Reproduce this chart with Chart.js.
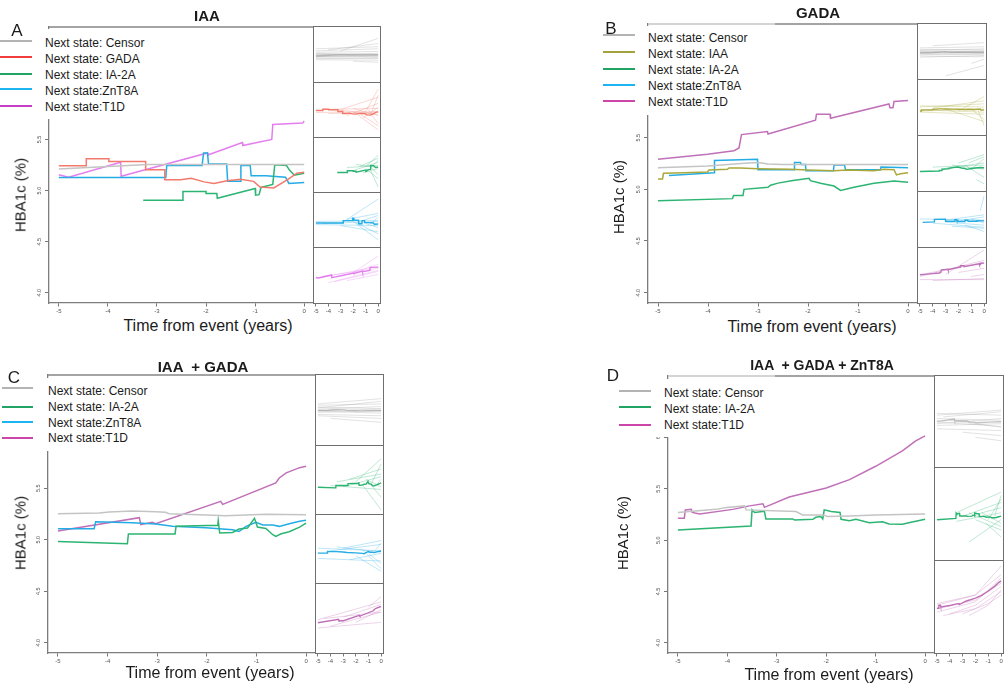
<!DOCTYPE html>
<html lang="en">
<head>
<meta charset="utf-8">
<title>HBA1c before next state</title>
<script src="https://cdn.jsdelivr.net/npm/chart.js@4.4.1/dist/chart.umd.min.js"></script>
<style>
  html, body { margin: 0; padding: 0; background: #fff; }
  body { position: relative; width: 1006px; height: 688px; overflow: hidden; font-family: "Liberation Sans", Arial, sans-serif; color: #1b1b1b; }
  canvas { position: absolute; }
  .box { position: absolute; box-sizing: border-box; }
  .txt { position: absolute; white-space: pre; line-height: 1; }
</style>
</head>
<body>
<script>
// 軸の範囲と目盛り
const X_RANGE = [-5.2, 0.2];
const STRIP_X_RANGE = [-5.15, 0.15];
const Y_RANGE = [3.9, 6.6];
const X_TICKS = [-5, -4, -3, -2, -1, 0];
const Y_TICKS = [4, 4.5, 5, 5.5, 6];
const Y_TICK_LABELS = ['4.0', '4.5', '5.0', '5.5', '6'];

// ---- A: IAA ----  [time, HbA1c]
const A_censor = [[-5,5.21],[-4,5.235],[-3.2,5.255],[-2,5.255],[0,5.255]];
const A_gada = [[-5,5.243],[-4.44,5.243],[-4.44,5.31],[-3.98,5.31],[-3.98,5.285],[-3.23,5.285],[-3.23,5.204],[-2.84,5.204],[-2.84,5.105],[-2.52,5.105],[-2.3,5.12],[-2.04,5.085],[-1.84,5.07],[-1.57,5.095],[-1.3,5.11],[-1.03,5.09],[-0.9,5.035],[-0.62,5.025],[-0.33,5.11],[-0.15,5.17],[0,5.18]];
const A_ia2a = [[-3.28,4.905],[-2.48,4.905],[-2.47,4.99],[-2.0,4.99],[-2.0,4.97],[-1.78,4.97],[-1.77,4.925],[-1.0,5.02],[-0.99,4.955],[-0.92,4.96],[-0.88,5.03],[-0.64,5.06],[-0.6,5.253],[-0.36,5.245],[-0.3,5.2],[-0.2,5.15],[0,5.17]];
const A_znt8a = [[-5,5.128],[-2.82,5.128],[-2.8,5.246],[-2.08,5.246],[-2.05,5.368],[-1.97,5.368],[-1.95,5.26],[-1.58,5.26],[-1.56,5.09],[-1.3,5.09],[-1.29,5.246],[-1.1,5.246],[-1.08,5.145],[-0.78,5.145],[-0.38,5.13],[-0.31,5.07],[0,5.08]];
const A_t1d = [[-5,5.155],[-4.8,5.13],[-3.74,5.276],[-3.73,5.14],[-1.97,5.368],[-1.95,5.35],[-1.26,5.47],[-1.25,5.44],[-0.66,5.5],[-0.64,5.647],[-0.03,5.66],[0,5.68]];

// ---- B: GADA ----
const B_censor = [[-5,5.21],[-4,5.225],[-3.2,5.255],[-3.0,5.26],[-2.8,5.245],[-2.5,5.24],[0,5.24]];
const B_iaa = [[-5,5.1],[-4.91,5.1],[-4.89,5.155],[-4.48,5.16],[-4.01,5.168],[-3.98,5.187],[-3.61,5.194],[-3.58,5.206],[-3.35,5.206],[-3.01,5.2],[-2.35,5.194],[-2.01,5.187],[-1.48,5.18],[-1.21,5.187],[-0.68,5.18],[-0.48,5.194],[-0.28,5.19],[-0.23,5.14],[-0.15,5.15],[0,5.16]];
const B_ia2a = [[-5,4.89],[-3.51,4.91],[-3.49,4.94],[-3.3,4.94],[-3.28,5.0],[-2.8,5.02],[-2.75,5.04],[-2.6,5.06],[-2.3,5.085],[-1.98,5.106],[-1.95,5.084],[-1.75,5.058],[-1.48,5.032],[-1.35,4.99],[-1.08,5.02],[-0.68,5.058],[-0.28,5.08],[0,5.068]];
const B_znt8a = [[-4.78,5.135],[-3.88,5.16],[-3.87,5.28],[-3.01,5.29],[-3.0,5.19],[-2.28,5.19],[-2.27,5.26],[-2.15,5.26],[-2.14,5.24],[-2.05,5.24],[-2.04,5.18],[-1.49,5.18],[-1.48,5.235],[-1.27,5.235],[-1.25,5.19],[-0.55,5.19],[-0.54,5.215],[0,5.21]];
const B_t1d = [[-5,5.29],[-4.01,5.34],[-3.48,5.374],[-3.38,5.4],[-3.33,5.53],[-2.81,5.56],[-2.8,5.535],[-1.85,5.67],[-1.83,5.726],[-1.56,5.726],[-1.55,5.687],[-0.38,5.826],[-0.36,5.79],[-0.3,5.79],[-0.28,5.85],[0,5.86]];

// ---- C: IAA + GADA ----
const C_censor = [[-5,5.253],[-4.17,5.26],[-3.97,5.27],[-3.5,5.28],[-3.03,5.273],[-2.83,5.266],[-2.76,5.253],[-2.02,5.24],[-1.62,5.234],[-0.81,5.247],[0,5.243]];
const C_ia2a = [[-5,4.984],[-3.6,4.961],[-3.58,5.055],[-2.64,5.055],[-2.62,5.13],[-1.78,5.14],[-1.77,5.185],[-1.74,5.065],[-1.48,5.07],[-1.35,5.104],[-1.18,5.114],[-1.04,5.208],[-0.98,5.123],[-0.81,5.11],[-0.67,5.049],[-0.61,5.032],[-0.5,5.058],[-0.34,5.078],[-0.13,5.123],[0,5.162]];
const C_znt8a = [[-5,5.107],[-4.27,5.107],[-4.24,5.175],[-3.5,5.166],[-3.03,5.153],[-2.69,5.13],[-2.02,5.117],[-1.48,5.097],[-1.35,5.08],[-1.21,5.13],[-1.01,5.169],[-0.87,5.143],[-0.67,5.143],[-0.54,5.13],[-0.34,5.156],[-0.13,5.18],[0,5.19]];
const C_t1d = [[-5,5.084],[-3.36,5.214],[-3.33,5.146],[-3.1,5.17],[-3.03,5.156],[-1.72,5.373],[-1.68,5.344],[-0.61,5.552],[-0.54,5.6],[-0.4,5.65],[-0.13,5.7],[0,5.714]];

// ---- D: IAA + GADA + ZnT8A ----
const D_censor = [[-5,5.269],[-4.23,5.3],[-4.02,5.318],[-3.65,5.334],[-3.62,5.295],[-2.61,5.279],[-2.48,5.246],[-2.07,5.246],[-1.97,5.23],[-1.53,5.236],[-1.0,5.246],[0,5.256]];
const D_ia2a = [[-5,5.098],[-3.52,5.138],[-3.5,5.295],[-3.45,5.269],[-3.25,5.282],[-3.22,5.207],[-2.68,5.207],[-2.64,5.197],[-2.27,5.203],[-2.21,5.223],[-2.11,5.23],[-2.07,5.207],[-2.04,5.295],[-1.9,5.279],[-1.72,5.269],[-1.7,5.203],[-1.53,5.19],[-1.4,5.203],[-1.13,5.17],[-0.86,5.18],[-0.73,5.157],[-0.46,5.154],[-0.26,5.177],[0,5.203]];
const D_t1d = [[-5,5.213],[-4.87,5.213],[-4.85,5.295],[-4.73,5.3],[-4.71,5.27],[-4.56,5.256],[-3.89,5.3],[-3.55,5.334],[-3.28,5.354],[-3.25,5.32],[-2.75,5.42],[-2.0,5.508],[-1.53,5.59],[-1.0,5.72],[-0.46,5.87],[-0.19,5.967],[0,6.016]];

// 個人ごとの薄い線 [x0, y0, x1, y1, ...]
const A_fCensor = [[-5,5.45,0,5.55],[-5,5.38,0,5.42],[-5,5.32,0,5.22],[-5,5.27,0,5.33],[-5,5.22,0,5.16],[-5,5.17,0,5.27],[-5,5.12,0,5.08],[-5,5.07,0,5.12],[-5,5.02,0,5.0],[-5,5.3,0,5.28],[-5,5.18,0,5.2],[-4,5.5,0,5.8],[-3,5.45,0,6.05],[-5,5.55,0,5.65],[-2,4.95,0,4.9]];
const A_fGada = [[-5,5.3,0,5.35],[-4,5.1,0,5.15],[-3,5.3,0,5.9],[-2,5.2,0,4.3],[-1.5,5.1,0,4.5],[-2.5,5.0,0,5.6],[-1,5.2,0,6.3],[-3.5,5.3,0,5.05],[-1.2,4.9,0,5.4],[-0.8,5.3,0,4.6],[-2,5.35,0,5.0],[-0.5,5.2,0,6.0],[-5,5.15,0,5.2]];
const A_fIa2a = [[-1.5,5.2,0,5.6],[-1,5.1,0,4.6],[-2,5.0,0,5.4],[-0.8,5.3,0,4.8],[-2.5,5.15,0,5.25],[-1.2,4.9,0,5.1],[-0.5,5.2,0,5.5],[-1,5.2,0,5.75],[-0.6,5.0,0,4.2],[-1.8,5.3,0,5.15]];
const A_fZnt8a = [[-3,5.1,0,6.3],[-2,5.2,0,4.3],[-4.5,5.1,0,5.2],[-5,5.05,0,5.0],[-1.5,5.2,0,5.5],[-3,5.0,0,4.7],[-2.5,5.3,0,5.6],[-1,5.1,0,4.9],[-5,5.2,0,5.25],[-1.8,5.15,0,4.6],[-0.6,5.1,0,5.4]];
const A_fT1d = [[-5,5.1,0,5.7],[-4,4.9,0,5.5],[-3,5.2,0,5.8],[-2.5,5.0,0,5.3],[-4.5,5.2,0,5.6],[-2,5.4,0,6.2],[-3.5,4.95,0,5.45]];

const B_fCensor = [[-5,5.45,0,5.5],[-5,5.38,0,5.35],[-5,5.33,0,5.4],[-5,5.27,0,5.2],[-5,5.22,0,5.3],[-5,5.17,0,5.12],[-5,5.12,0,5.18],[-5,5.06,0,5.02],[-5,5.0,0,5.08],[-5,5.3,0,5.28],[-5,5.2,0,5.22],[-3,4.1,0,4.6],[-1,4.7,0,4.9],[-4,5.55,0,5.7]];
const B_fIaa = [[-5,5.3,0,5.45],[-5,5.1,0,5.2],[-4,5.25,0,5.6],[-3,5.2,0,4.6],[-1,5.2,0,4.7],[-5,5.35,0,5.3],[-2,5.1,0,5.8],[-4.5,5.15,0,5.05],[-5,5.05,0,4.95],[-0.5,5.2,0,4.4]];
const B_fIa2a = [[-2,5.3,0,5.7],[-1.5,5.2,0,4.6],[-3,5.05,0,5.3],[-1,5.0,0,5.5],[-4,5.1,0,5.2],[-0.6,4.5,0,4.3],[-2.5,5.2,0,5.0],[-1.2,5.3,0,5.6]];
const B_fZnt8a = [[-3,5.25,0,5.5],[-4,5.1,0,4.9],[-2,5.2,0,5.4],[-1.5,5.0,0,4.7],[-1,5.3,0,5.1],[-3,5.15,0,5.0],[-5,5.3,0,5.25],[-0.3,5.7,0,6.4],[-2.5,4.95,0,4.85]];
const B_fT1d = [[-5,5.2,0,6.0],[-3,5.3,0,6.5],[-4,5.0,0,5.1],[-2,5.4,0,5.6],[-5,5.05,0,5.05],[-1,5.2,0,5.3],[-4.5,5.35,0,5.9]];

const C_fCensor = [[-5,5.45,0,5.5],[-5,5.38,0,5.32],[-5,5.3,0,5.4],[-5,5.22,0,5.15],[-5,5.18,0,5.25],[-5,5.1,0,5.05],[-5,5.05,0,4.95],[-5,5.5,0,5.7],[-5,5.25,0,5.3],[-4,4.95,0,4.8],[-5,5.35,0,5.6]];
const C_fIa2a = [[-2,5.2,0,6.1],[-1.5,5.1,0,4.1],[-3,5.0,0,5.4],[-1,5.2,0,4.6],[-2.5,5.3,0,5.7],[-0.5,5.0,0,5.3],[-4,5.05,0,4.9],[-1.2,5.3,0,5.0],[-0.8,5.1,0,5.9],[-3.5,5.2,0,5.5]];
const C_fZnt8a = [[-5,5.3,0,5.2],[-5,4.9,0,4.8],[-3,5.3,0,5.6],[-2,5.0,0,4.4],[-4,5.2,0,5.45],[-1,5.1,0,4.7],[-2.5,4.85,0,5.1],[-0.5,5.2,0,5.5],[-3.5,5.35,0,5.15],[-1.5,5.25,0,4.5]];
const C_fT1d = [[-5,5.2,0,5.9],[-4,4.95,0,5.5],[-3,5.3,0,5.8],[-5,4.88,0,5.1],[-2,5.1,0,5.6],[-1,5.7,0,6.1],[-4.5,5.25,0,5.5]];

const D_fCensor = [[-5,5.45,0,5.6],[-5,5.35,0,5.3],[-5,5.15,0,5.2],[-5,5.05,0,5.0],[-4,5.3,0,5.1],[-3,4.95,0,4.85],[-2,4.8,0,4.7],[-5,5.5,0,5.45],[-5,5.2,0,5.35],[-5,5.25,0,5.12],[-4.5,5.4,0,5.55]];
const D_fIa2a = [[-3.5,5.3,0,5.9],[-2,5.1,0,4.8],[-3,5.2,0,5.6],[-1.5,5.3,0,5.0],[-1,5.1,0,5.7],[-3.5,5.05,0,5.3],[-2.5,4.45,0,5.1],[-2,5.25,0,5.45],[-1.2,5.0,0,4.6],[-0.5,5.2,0,5.8],[-2.5,5.3,0,4.9]];
const D_fT1d = [[-5,5.3,-2,5.6,0,6.45],[-5,5.1,-2,5.4,0,6.1],[-4,5.05,-2,5.3,0,5.85],[-3,5.05,-1,5.35,0,5.6],[-5,5.35,-2,5.6,0,6.2],[-2.5,5.0,-1,5.3,0,5.75],[-5,5.2,-2,5.45,0,5.95],[-4.5,5.0,-2,5.2,0,5.7]];

// 色
const COL = {
  censor: 'rgb(196, 196, 196)',
  gada: 'rgb(241, 122, 108)',
  ia2a: 'rgb(44, 180, 114)',
  znt8a: 'rgb(36, 172, 228)',
  t1dA: 'rgb(228, 126, 238)',
  t1d: 'rgb(192, 112, 184)',
  iaa: 'rgb(170, 168, 58)'
};
const KEY = {
  censor: '#b3b3b3', gada: '#ef3d3d', ia2a: '#1fa463', znt8a: '#1db5ef',
  t1dA: '#c23fc6', t1d: '#cc45a8', iaa: '#a3a23c'
};

function fade(rgb, a) {
  return rgb.replace('rgb', 'rgba').replace(')', `, ${a})`);
}

// パネル配置
const panels = [
  {
    letter: 'A', letterPos: [17, 30], title: 'IAA', titlePos: [207, 15], titleSize: 15,
    plot: { l: 49, t: 27, r: 314, b: 303 }, topSplit: 0,
    strip: { l: 314, r: 380, rows: [27, 83, 138, 193, 248, 303] },
    legend: { box: [0, 29, 158, 90], lineX: [0, 32], lineY: [41, 57, 74, 89, 106], textX: 45, textY: [43, 59, 75, 90.5, 107] },
    yTitle: [20, 195], xTitle: [208, 326],
    series: [
      { name: 'Next state: Censor', data: A_censor, faint: A_fCensor, color: COL.censor, key: KEY.censor },
      { name: 'Next state: GADA', data: A_gada, faint: A_fGada, color: COL.gada, key: KEY.gada },
      { name: 'Next state: IA-2A', data: A_ia2a, faint: A_fIa2a, color: COL.ia2a, key: KEY.ia2a },
      { name: 'Next state:ZnT8A', data: A_znt8a, faint: A_fZnt8a, color: COL.znt8a, key: KEY.znt8a },
      { name: 'Next state:T1D', data: A_t1d, faint: A_fT1d, color: COL.t1dA, key: KEY.t1dA }
    ]
  },
  {
    letter: 'B', letterPos: [611, 28], title: 'GADA', titlePos: [818, 12], titleSize: 15,
    plot: { l: 648, t: 24, r: 918, b: 303 }, topSplit: 0.47,
    strip: { l: 918, r: 986, rows: [24, 80, 136, 192, 248, 303] },
    legend: { box: [598, 26, 165, 89], lineX: [603, 635], lineY: [35, 52, 69, 85, 101], textX: 648, textY: [37.5, 53.5, 70, 85.5, 101.5] },
    yTitle: [618, 197], xTitle: [812, 327],
    series: [
      { name: 'Next state: Censor', data: B_censor, faint: B_fCensor, color: COL.censor, key: KEY.censor },
      { name: 'Next state: IAA', data: B_iaa, faint: B_fIaa, color: COL.iaa, key: KEY.iaa },
      { name: 'Next state: IA-2A', data: B_ia2a, faint: B_fIa2a, color: COL.ia2a, key: KEY.ia2a },
      { name: 'Next state:ZnT8A', data: B_znt8a, faint: B_fZnt8a, color: COL.znt8a, key: KEY.znt8a },
      { name: 'Next state:T1D', data: B_t1d, faint: B_fT1d, color: COL.t1d, key: KEY.t1d }
    ]
  },
  {
    letter: 'C', letterPos: [14, 377], title: 'IAA  + GADA', titlePos: [203, 366], titleSize: 15,
    plot: { l: 48, t: 375, r: 316, b: 653 }, topSplit: 0,
    strip: { l: 316, r: 383, rows: [375, 446, 515, 584, 653] },
    legend: { box: [0, 378, 158, 73], lineX: [2, 33], lineY: [388, 407, 422, 438], textX: 48, textY: [391, 407, 422.5, 438] },
    yTitle: [20, 533], xTitle: [210, 673],
    series: [
      { name: 'Next state: Censor', data: C_censor, faint: C_fCensor, color: COL.censor, key: KEY.censor },
      { name: 'Next state: IA-2A', data: C_ia2a, faint: C_fIa2a, color: COL.ia2a, key: KEY.ia2a },
      { name: 'Next state:ZnT8A', data: C_znt8a, faint: C_fZnt8a, color: COL.znt8a, key: KEY.znt8a },
      { name: 'Next state:T1D', data: C_t1d, faint: C_fT1d, color: COL.t1d, key: KEY.t1d }
    ]
  },
  {
    letter: 'D', letterPos: [613, 375], title: 'IAA  + GADA + ZnT8A', titlePos: [822, 365], titleSize: 14,
    plot: { l: 668, t: 376, r: 935, b: 653 }, topSplit: 0.4,
    strip: { l: 935, r: 1003, rows: [376, 468, 561, 653] },
    legend: { box: [612, 379, 160, 58], lineX: [619, 651], lineY: [391, 407, 425], textX: 664, textY: [393, 409, 425] },
    yTitle: [622, 533], xTitle: [829, 675],
    series: [
      { name: 'Next state: Censor', data: D_censor, faint: D_fCensor, color: COL.censor, key: KEY.censor },
      { name: 'Next state: IA-2A', data: D_ia2a, faint: D_fIa2a, color: COL.ia2a, key: KEY.ia2a },
      { name: 'Next state:T1D', data: D_t1d, faint: D_fT1d, color: COL.t1d, key: KEY.t1d }
    ]
  }
];

// ---- 描画ヘルパー ----
function addCanvas(l, t, w, h) {
  const c = document.createElement('canvas');
  c.width = w; c.height = h;
  c.style.cssText = `left:${l}px;top:${t}px;width:${w}px;height:${h}px`;
  document.body.appendChild(c);
  return c;
}

function box(l, t, w, h, css) {
  const d = document.createElement('div');
  d.className = 'box';
  d.style.cssText = `left:${l}px;top:${t}px;width:${w}px;height:${h}px;${css}`;
  document.body.appendChild(d);
  return d;
}

function addText(str, x, y, opt) {
  const d = document.createElement('div');
  d.className = 'txt';
  d.textContent = str;
  d.style.left = x + 'px';
  d.style.top = y + 'px';
  d.style.fontSize = opt.size + 'px';
  if (opt.bold) d.style.fontWeight = 'bold';
  let tf = opt.align === 'left' ? 'translate(0,-50%)' : 'translate(-50%,-50%)';
  if (opt.rotate) tf += ' rotate(-90deg)';
  d.style.transform = tf;
  document.body.appendChild(d);
}

function toPoints(pairs) {
  return pairs.map(([x, y]) => ({ x, y }));
}

function flatToPoints(flat) {
  const pts = [];
  for (let i = 0; i < flat.length; i += 2) pts.push({ x: flat[i], y: flat[i + 1] });
  return pts;
}

function lineSet(points, color, width) {
  return {
    data: points, borderColor: color, backgroundColor: color, borderWidth: width,
    pointRadius: 0, showLine: true, tension: 0, fill: false
  };
}

function axisX(range, h, border) {
  return {
    type: 'linear', min: range[0], max: range[1],
    afterBuildTicks: sc => { sc.ticks = X_TICKS.map(v => ({ value: v })); },
    afterFit: sc => { sc.height = h; sc.paddingLeft = 0; sc.paddingRight = 0; },
    grid: { drawOnChartArea: false, drawTicks: true, tickLength: 3.5, color: '#777' },
    border: { display: border, color: '#7d7d7d', width: 1.3 },
    ticks: {
      font: { size: 6, family: 'Liberation Sans' }, color: '#555', padding: 1,
      maxRotation: 0, minRotation: 0, autoSkip: false, callback: v => String(v)
    }
  };
}

// 上辺の枠線と回転したy目盛りラベル（Rの出力に合わせる）
const framePlugin = {
  id: 'frame',
  afterDraw(chart, args, opts) {
    const { ctx, chartArea: a } = chart;
    const split = a.left + (a.right - a.left) * (opts.split || 0);
    ctx.save();
    ctx.lineWidth = 1.3;
    if (split > a.left) {
      ctx.strokeStyle = '#c6c6c6';
      ctx.beginPath(); ctx.moveTo(a.left, a.top); ctx.lineTo(split, a.top); ctx.stroke();
    }
    ctx.strokeStyle = '#868686';
    ctx.beginPath(); ctx.moveTo(split, a.top); ctx.lineTo(a.right, a.top); ctx.stroke();

    const ys = chart.scales.y;
    ctx.fillStyle = '#555';
    ctx.font = '5.5px "Liberation Sans"';
    ctx.textAlign = 'center';
    ctx.textBaseline = 'middle';
    Y_TICKS.forEach((v, i) => {
      ctx.save();
      ctx.translate(a.left - 10, ys.getPixelForValue(v));
      ctx.rotate(-Math.PI / 2);
      ctx.fillText(Y_TICK_LABELS[i], 0, 0);
      ctx.restore();
    });
    ctx.restore();
  }
};

// メインのグラフ
function drawMain(p) {
  const yAxisW = 22, xAxisH = 14, topPad = 2;
  const w = p.plot.r - p.plot.l + yAxisW;
  const h = p.plot.b - p.plot.t + topPad + xAxisH;
  const cv = addCanvas(p.plot.l - yAxisW, p.plot.t - topPad, w, h);
  const datasets = p.series.map(s => lineSet(toPoints(s.data), s.color, 1.5));

  new Chart(cv, {
    type: 'scatter',
    data: { datasets },
    options: {
      responsive: false, animation: false, events: [],
      layout: { padding: { top: topPad, left: 0, right: 0, bottom: 0 } },
      plugins: { legend: { display: false }, tooltip: { enabled: false }, frame: { split: p.topSplit } },
      scales: {
        x: axisX(X_RANGE, xAxisH, true),
        y: {
          type: 'linear', min: Y_RANGE[0], max: Y_RANGE[1],
          afterBuildTicks: sc => { sc.ticks = Y_TICKS.map(v => ({ value: v })); },
          afterFit: sc => { sc.width = yAxisW; sc.paddingTop = 0; sc.paddingBottom = 0; },
          grid: { drawOnChartArea: false, drawTicks: true, tickLength: 4, color: '#777' },
          border: { display: true, color: '#7d7d7d', width: 1.3 },
          ticks: { display: false }
        }
      }
    },
    plugins: [framePlugin]
  });
}

// 凡例（白背景で軸の上部を隠す）
function drawLegend(p) {
  const L = p.legend;
  box(L.box[0], L.box[1], L.box[2], L.box[3], 'background:#fff');
  p.series.forEach((s, i) => {
    box(L.lineX[0], L.lineY[i] - 1, L.lineX[1] - L.lineX[0], 2, `background:${s.key}`);
    addText(s.name, L.textX, L.textY[i], { size: 12, align: 'left' });
  });
}

// 右側の小さなパネル
function drawStrip(p) {
  const s = p.strip;
  const n = s.rows.length - 1;
  const w = s.r - s.l;
  box(s.l - 0.6, s.rows[0] - 0.6, w + 1.2, s.rows[n] - s.rows[0] + 1.2, 'border:1.3px solid #6f6f6f');
  for (let i = 1; i < n; i++) box(s.l, s.rows[i] - 0.6, w, 0, 'border-top:1.3px solid #6f6f6f');

  p.series.forEach((ser, i) => {
    const last = i === n - 1;
    const top = s.rows[i];
    const h = s.rows[i + 1] - top;
    const cv = addCanvas(s.l, top, w, h + (last ? 14 : 0));
    const faintCol = ser.color === COL.censor ? 'rgba(150, 150, 150, 0.28)' : fade(ser.color, 0.3);
    const datasets = ser.faint.map(f => lineSet(flatToPoints(f), faintCol, 1))
      .concat([lineSet(toPoints(ser.data), ser.color, 1.4)]);

    new Chart(cv, {
      type: 'scatter',
      data: { datasets },
      options: {
        responsive: false, animation: false, events: [],
        layout: { padding: 0 },
        plugins: { legend: { display: false }, tooltip: { enabled: false } },
        scales: {
          x: last ? axisX(STRIP_X_RANGE, 14, false)
                  : { type: 'linear', display: false, min: STRIP_X_RANGE[0], max: STRIP_X_RANGE[1] },
          y: { type: 'linear', display: false, min: Y_RANGE[0], max: Y_RANGE[1] }
        }
      }
    });
  });
}

function drawTexts(p) {
  addText(p.letter, p.letterPos[0], p.letterPos[1], { size: 17 });
  addText(p.title, p.titlePos[0], p.titlePos[1], { size: p.titleSize, bold: true });
  addText('HBA1c (%)', p.yTitle[0], p.yTitle[1], { size: 15, rotate: true });
  addText('Time from event (years)', p.xTitle[0], p.xTitle[1], { size: 16 });
}

panels.forEach(p => {
  drawMain(p);
  drawLegend(p);
  drawStrip(p);
  drawTexts(p);
});
</script>
</body>
</html>
